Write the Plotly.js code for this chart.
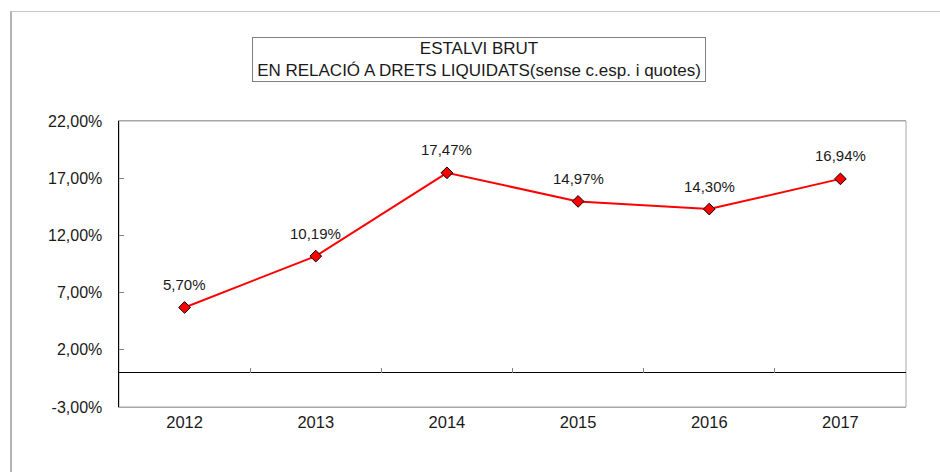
<!DOCTYPE html>
<html>
<head>
<meta charset="utf-8">
<script src="https://cdn.plot.ly/plotly-3.0.1.min.js"></script>
<style>
html,body{margin:0;padding:0;background:#fff;}
#wrap{position:relative;width:940px;height:472px;}
#chart{width:940px;height:472px;}
#frame{position:absolute;left:10px;top:11px;width:940px;height:470px;border-left:2px solid #b4b4b4;border-top:1px solid #c8c8c8;pointer-events:none;}
</style>
</head>
<body>
<div id="wrap"><div id="chart"></div><div id="frame"></div></div>
<script>
const years = ['2012','2013','2014','2015','2016','2017'];
const values = [5.70, 10.19, 17.47, 14.97, 14.30, 16.94];
const yTicks = [-3, 2, 7, 12, 17, 22];
const titleLines = ['ESTALVI BRUT', 'EN RELACIÓ A DRETS LIQUIDATS(sense c.esp. i quotes)'];

const fam = 'Liberation Sans, Arial, sans-serif';
const txtColor = '#1a1a1a';
const fmt = v => v.toFixed(2).replace('.', ',') + '%';

const main = {
  x: years, y: values, type: 'scatter', mode: 'lines+markers',
  line: {color: '#ff0000', width: 2},
  marker: {symbol: 'diamond', size: 9, color: '#ff0000', line: {color: '#000', width: 1}},
  hoverinfo: 'skip'
};
const ghost = {
  x: years, y: values, type: 'scatter', mode: 'markers', xaxis: 'x2',
  marker: {opacity: 0}, hoverinfo: 'skip', showlegend: false
};

// category index of each year on the category axis
const labelAnns = years.map((yr, i) => ({
  x: years.indexOf(yr), y: values[i], xref: 'x', yref: 'y',
  text: fmt(values[i]), showarrow: false,
  xanchor: 'center', yanchor: 'middle', yshift: 23,
  font: {family: fam, size: 15, color: txtColor}
}));

const layout = {
  width: 940, height: 472,
  margin: {l: 119, r: 34, t: 121, b: 65},
  paper_bgcolor: '#fff', plot_bgcolor: '#fff',
  showlegend: false,
  font: {family: fam, size: 15, color: txtColor},
  xaxis: {
    type: 'category', range: [-0.5, 5.5],
    showgrid: false, zeroline: false,
    showline: true, linecolor: '#a6a6a6', linewidth: 1, mirror: true,
    ticks: '', tickfont: {family: fam, size: 16.5, color: txtColor}, fixedrange: true
  },
  xaxis2: {
    type: 'category', matches: 'x', overlaying: 'x', anchor: 'free', position: 3/25,
    showgrid: false, zeroline: false, showline: false,
    ticks: 'inside', tickson: 'boundaries', ticklen: 5, tickcolor: '#808080', tickwidth: 1,
    showticklabels: false
  },
  yaxis: {
    range: [-3, 22], tickmode: 'array', tickvals: yTicks, ticktext: yTicks.map(fmt),
    showgrid: false,
    zeroline: true, zerolinecolor: '#000', zerolinewidth: 1.5,
    showline: true, linecolor: '#000', linewidth: 1.5,
    ticks: 'inside', ticklen: 5, tickcolor: '#808080', tickwidth: 1,
    ticklabelstandoff: 12,
    tickfont: {family: fam, size: 16, color: txtColor},
    fixedrange: true
  },
  shapes: [{
    type: 'rect', xref: 'paper', yref: 'paper', x0: 0, x1: 1, y0: 0, y1: 1,
    line: {color: '#a6a6a6', width: 1}, layer: 'below'
  }],
  annotations: [{
    xref: 'paper', yref: 'paper', x: 0.457, y: 1.215, xanchor: 'center', yanchor: 'middle',
    text: titleLines.join('<br>'), showarrow: false,
    font: {family: fam, size: 17, color: txtColor},
    width: 452, height: 43, align: 'center', valign: 'middle',
    bordercolor: '#808080', borderwidth: 1, borderpad: 0, bgcolor: '#fff'
  }].concat(labelAnns)
};

Plotly.newPlot('chart', [main, ghost], layout, {displayModeBar: false, staticPlot: true});
</script>
</body>
</html>
